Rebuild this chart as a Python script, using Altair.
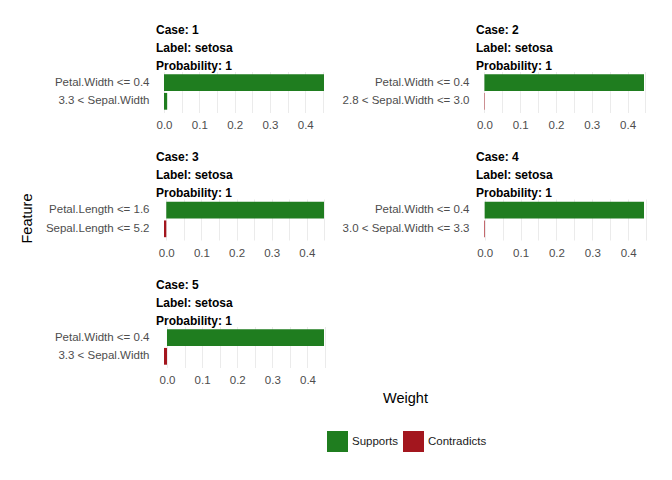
import altair as alt
import pandas as pd

# ---- data ----
cases = [1, 2, 3, 4, 5]
labels = ["setosa", "setosa", "setosa", "setosa", "setosa"]
probs = [1, 1, 1, 1, 1]
feature_1 = ["Petal.Width <= 0.4", "Petal.Width <= 0.4", "Petal.Length <= 1.6",
             "Petal.Width <= 0.4", "Petal.Width <= 0.4"]
weight_1 = [0.453, 0.446, 0.449, 0.444, 0.447]
feature_2 = ["3.3 < Sepal.Width", "2.8 < Sepal.Width <= 3.0", "Sepal.Length <= 5.2",
             "3.0 < Sepal.Width <= 3.3", "3.3 < Sepal.Width"]
weight_2 = [0.009, -0.0012, -0.0065, -0.0018, -0.0085]
type_order = ["Supports", "Contradicts"]
type_colors = ["#1F7D1F", "#A3161E"]
grid_vals = [-0.05, 0.0, 0.05, 0.1, 0.15, 0.2, 0.25, 0.3, 0.35, 0.4, 0.45, 0.5]

FONT = "Liberation Sans"
PW, PH = 176, 41
ROW_SPACING = 19.5
FEATURE_Y = 19          # centre of the rotated "Feature" title inside panel 3
FEATURE_OVERHANG = 6    # how far that title sticks out above panel 3


def panel(i):
    feats = [feature_1[i], feature_2[i]]
    ws = [weight_1[i], weight_2[i]]
    df = pd.DataFrame({
        "feature": feats,
        "weight": ws,
        "type": ["Supports" if w >= 0 else "Contradicts" for w in ws],
    })
    lo = min(0.0, min(ws))
    hi = max(0.0, max(ws))
    r = hi - lo
    dlo, dhi = lo - 0.05 * r, hi + 0.05 * r
    vals = [v for v in grid_vals if dlo <= v <= dhi]
    xaxis = dict(
        values=vals,
        labelExpr="abs(datum.value*10 - round(datum.value*10)) < 1e-6 ? format(datum.value, '.1f') : ''",
        ticks=False, tickSize=0, domain=False, grid=True, gridColor="#EBEBEB",
        gridWidth=1, labelFlush=False, labelPadding=7, labelColor="#4D4D4D",
        labelFontSize=11.5, labelFont=FONT, labelOverlap=False, title=None,
    )
    if i == 3:
        xaxis.update(title="Weight", titleX=404 - 475, titleY=158, titleBaseline="middle",
                     titleAlign="center", titleFontSize=14.5, titleFontWeight="normal",
                     titleFont=FONT, titleColor="black")
    yaxis = dict(ticks=False, tickSize=0, domain=False, grid=False, labelPadding=7,
                 labelColor="#4D4D4D", labelFontSize=11.5, labelFont=FONT, title=None)
    title_offset = -1
    if i == 2:
        yaxis.update(title="Feature", titleX=27 - 156, titleY=FEATURE_Y, titleAngle=270,
                     titleBaseline="middle", titleAlign="center", titleFontSize=14.5,
                     titleFontWeight="normal", titleFont=FONT, titleColor="black")
        title_offset = -1 - FEATURE_OVERHANG
    legend = None
    if i == 0:
        legend = alt.Legend(orient="none", legendX=171, legendY=359.5, direction="horizontal",
                            title=None, symbolType="square", symbolSize=441,
                            symbolStrokeWidth=0, labelFontSize=11.5, labelFont=FONT,
                            labelColor="#1A1A1A", labelOffset=4, columnPadding=4,
                            padding=0, symbolOpacity=1)
    ch = alt.Chart(df).mark_bar().encode(
        y=alt.Y("feature:N", sort=feats,
                scale=alt.Scale(paddingInner=0.1, paddingOuter=0.15),
                axis=alt.Axis(**yaxis)),
        x=alt.X("weight:Q", scale=alt.Scale(domain=[dlo, dhi], nice=False, zero=False),
                axis=alt.Axis(**xaxis)),
        x2=alt.datum(0),
        color=alt.Color("type:N", scale=alt.Scale(domain=type_order, range=type_colors),
                        legend=legend),
    ).properties(
        width=PW, height=PH,
        title=alt.TitleParams(
            text=[f"Case: {cases[i]}", f"Label: {labels[i]}", f"Probability: {probs[i]}"],
            anchor="start", frame="group", fontWeight="bold", fontSize=12,
            lineHeight=18, font=FONT, color="black", offset=title_offset,
        ),
    )
    return ch


left = alt.vconcat(panel(0), panel(2), panel(4), spacing=ROW_SPACING)
right = alt.vconcat(panel(1), panel(3), spacing=ROW_SPACING)
chart = alt.hconcat(left, right, spacing=10).resolve_scale(color="shared").properties(
    padding={"left": 11, "top": 15.5, "right": 5, "bottom": 5},
    background="white",
).configure_view(strokeWidth=0, stroke=None)

chart.save("out.html", embed_options={"renderer": "svg", "actions": False})
